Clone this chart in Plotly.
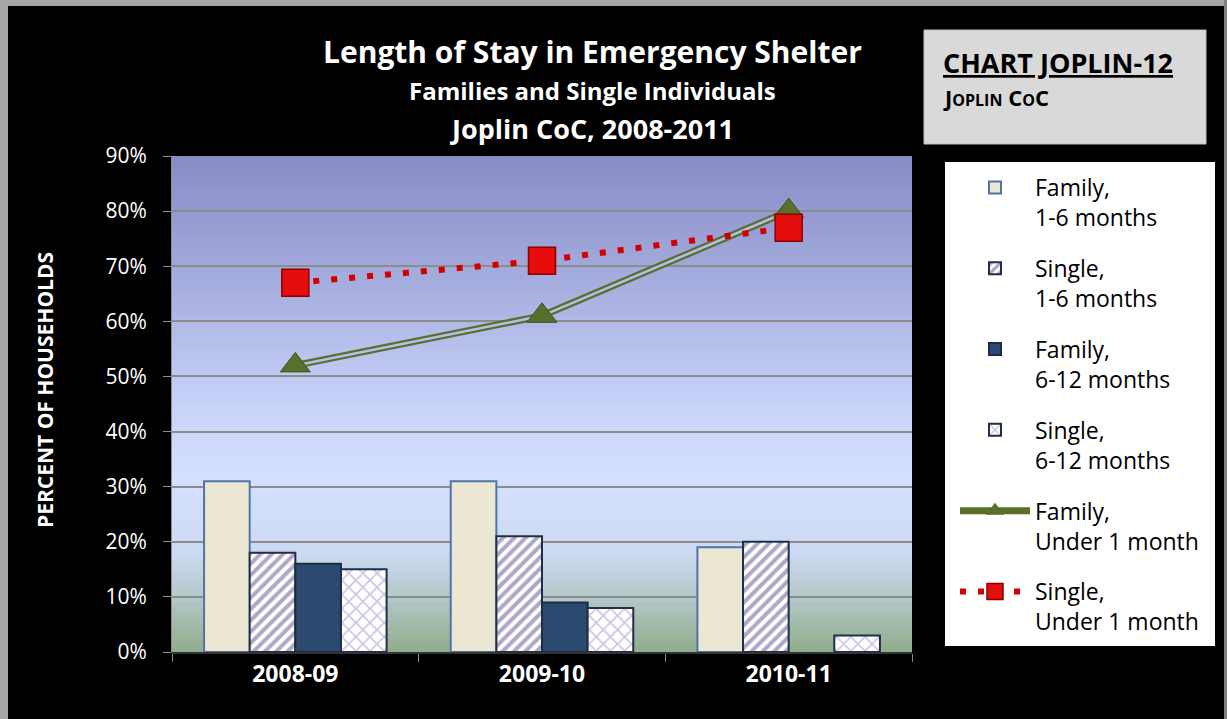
import plotly.graph_objects as go

# data
years = ["2008-09", "2009-10", "2010-11"]
family_1_6 = [0.31, 0.31, 0.19]
single_1_6 = [0.18, 0.21, 0.20]
family_6_12 = [0.16, 0.09, None]
single_6_12 = [0.15, 0.08, 0.03]
family_under_1 = [0.52, 0.61, 0.80]
single_under_1 = [0.67, 0.71, 0.77]

y_ticks = [0, 0.1, 0.2, 0.3, 0.4, 0.5, 0.6, 0.7, 0.8, 0.9]

# plot area in pixels
W_PX, H_PX = 1227, 719
L, R, T, B = 172, 912, 156, 652


def px_x(x):
    return (x - L) / (R - L)


def px_y(y):
    return (B - y) / (B - T)


FONT = "Open Sans"

fig = go.Figure()

fig.add_trace(go.Bar(
    x=years, y=family_1_6, name="Family,<br>1-6 months", legendgroup="a",
    marker=dict(color="#ebe7d3", line=dict(color="#4f74a6", width=2)),
))
fig.add_trace(go.Bar(
    x=years, y=single_1_6, name="Single,<br>1-6 months", legendgroup="b",
    marker=dict(color="white", line=dict(color="#1f2f4a", width=2),
                pattern=dict(shape="/", fgcolor="#5f5090", bgcolor="white",
                             size=8, solidity=0.5)),
))
fig.add_trace(go.Bar(
    x=years, y=family_6_12, name="Family,<br>6-12 months", legendgroup="c",
    marker=dict(color="#2c4a70", line=dict(color="#1b2d45", width=2)),
))
fig.add_trace(go.Bar(
    x=years, y=single_6_12, name="Single,<br>6-12 months", legendgroup="d",
    marker=dict(color="white", line=dict(color="#1f2f4a", width=2),
                pattern=dict(shape="x", fgcolor="#9a89c0", bgcolor="white",
                             size=10, solidity=0.3)),
))

# double green line: thick outer, light inner, markers on top
fig.add_trace(go.Scatter(
    x=years, y=family_under_1, name="Family,<br>Under 1 month", legendgroup="e",
    mode="lines+markers",
    line=dict(color="#5b6f2d", width=7),
    marker=dict(symbol="triangle-up", size=26, color="#5b6f2d"),
))
fig.add_trace(go.Scatter(
    x=years, y=family_under_1, mode="lines", showlegend=False, legendgroup="e",
    line=dict(color="#b7bfe8", width=2.5),
))
fig.add_trace(go.Scatter(
    x=years, y=family_under_1, mode="markers", showlegend=False, legendgroup="e",
    marker=dict(symbol="triangle-up", size=26, color="#5b6f2d",
                line=dict(color="#435420", width=1)),
))
fig.add_trace(go.Scatter(
    x=years, y=single_under_1, name="Single,<br>Under 1 month", legendgroup="f",
    mode="lines+markers",
    line=dict(color="#d40000", width=6, dash="6px,12px"),
    marker=dict(symbol="square", size=27, color="#e60d0d",
                line=dict(color="#8c0000", width=1.5)),
))

# gradient background for the plot area, built from thin bands
stops = [
    (0.0, (145, 172, 140)),
    (0.12, (182, 202, 205)),
    (0.2, (205, 218, 242)),
    (0.35, (213, 224, 255)),
    (0.5, (200, 210, 248)),
    (0.75, (165, 172, 222)),
    (1.0, (135, 140, 198)),
]


def grad(t):
    for (t0, c0), (t1, c1) in zip(stops[:-1], stops[1:]):
        if t0 <= t <= t1:
            f = (t - t0) / (t1 - t0)
            return "rgb(%d,%d,%d)" % tuple(round(a + (b - a) * f) for a, b in zip(c0, c1))
    return "rgb(%d,%d,%d)" % stops[-1][1]


shapes = []
n = 80
for i in range(n):
    y0 = i / n
    y1 = (i + 1) / n + 0.002
    shapes.append(dict(type="rect", xref="paper", yref="paper", x0=0, x1=1,
                       y0=y0, y1=min(y1, 1), fillcolor=grad((i + 0.5) / n),
                       line=dict(width=0), layer="below"))

# grey frame edges at left/top/right
shapes.append(dict(type="rect", xref="paper", yref="paper",
                   x0=px_x(0), x1=px_x(8), y0=px_y(719), y1=px_y(0),
                   fillcolor="#a6a6a6", line=dict(width=0)))
shapes.append(dict(type="rect", xref="paper", yref="paper",
                   x0=px_x(0), x1=px_x(1227), y0=px_y(6), y1=px_y(0),
                   fillcolor="#a6a6a6", line=dict(width=0)))
shapes.append(dict(type="rect", xref="paper", yref="paper",
                   x0=px_x(1224), x1=px_x(1227), y0=px_y(719), y1=px_y(0),
                   fillcolor="#7f7f7f", line=dict(width=0)))

# grey label box and white legend box
shapes.append(dict(type="rect", xref="paper", yref="paper",
                   x0=px_x(924), x1=px_x(1206), y0=px_y(144), y1=px_y(30),
                   fillcolor="#d9d9d9", line=dict(color="#bfbfbf", width=1)))
shapes.append(dict(type="rect", xref="paper", yref="paper",
                   x0=px_x(945), x1=px_x(1215), y0=px_y(646), y1=px_y(162),
                   fillcolor="white", line=dict(width=0), layer="below"))

annotations = [
    dict(text="<b>Length of Stay in Emergency Shelter</b>", x=px_x(592), y=px_y(52),
         font=dict(size=30, color="white", family=FONT)),
    dict(text="<b>Families and Single Individuals</b>", x=px_x(592), y=px_y(90),
         font=dict(size=24, color="white", family=FONT)),
    dict(text="<b>Joplin CoC, 2008-2011</b>", x=px_x(592), y=px_y(128),
         font=dict(size=27, color="white", family=FONT)),
    dict(text="<b><u>CHART JOPLIN-12</u></b>", x=px_x(941), y=px_y(62), xanchor="left",
         font=dict(size=27, color="black", family=FONT)),
    dict(text="<b>J<span style='font-size:16px'>OPLIN</span> C<span style='font-size:16px'>O</span>C</b>",
         x=px_x(941), y=px_y(97), xanchor="left",
         font=dict(size=22, color="black", family=FONT)),
    dict(text="<b>PERCENT OF HOUSEHOLDS</b>", x=px_x(45), y=px_y(390), textangle=-90,
         font=dict(size=21, color="white", family=FONT)),
]
for a in annotations:
    a.setdefault("xref", "paper")
    a.setdefault("yref", "paper")
    a.setdefault("showarrow", False)
    a.setdefault("xanchor", "center")
    a.setdefault("yanchor", "middle")

fig.update_layout(
    width=W_PX, height=H_PX,
    margin=dict(l=L, r=W_PX - R, t=T, b=H_PX - B),
    paper_bgcolor="black",
    plot_bgcolor="rgba(0,0,0,0)",
    barmode="group",
    bargap=0.26,
    bargroupgap=0,
    showlegend=True,
    legend=dict(
        x=px_x(955), y=px_y(166), xanchor="left", yanchor="top",
        bgcolor="rgba(0,0,0,0)",
        font=dict(size=23, color="black", family=FONT),
        itemwidth=70, valign="top", tracegroupgap=18,
        traceorder="grouped",
    ),
    shapes=shapes,
    annotations=annotations,
    hovermode=False,
)

fig.update_xaxes(
    type="category", tickson="boundaries", ticks="outside", ticklen=8,
    tickcolor="#8c8c8c", showline=True, linecolor="#333333", linewidth=2,
    showgrid=False,
    tickfont=dict(size=23, color="white", family=FONT),
    tickprefix="<b>", ticksuffix="</b>",
)
fig.update_yaxes(
    range=[0, 0.9], tickvals=y_ticks, tickformat=".0%",
    ticks="outside", ticklen=8, tickcolor="#8c8c8c",
    showline=True, linecolor="#8c8c8c", linewidth=1,
    showgrid=True, gridcolor="#8c8c8c", gridwidth=1.5,
    zeroline=False,
    tickfont=dict(size=21, color="white", family=FONT),
    tickprefix="<b>", ticksuffix="</b>",
    ticklabelstandoff=12,
)

fig.write_html("out.html", config={"displayModeBar": False},
               post_script="document.body.style.margin='0';")
